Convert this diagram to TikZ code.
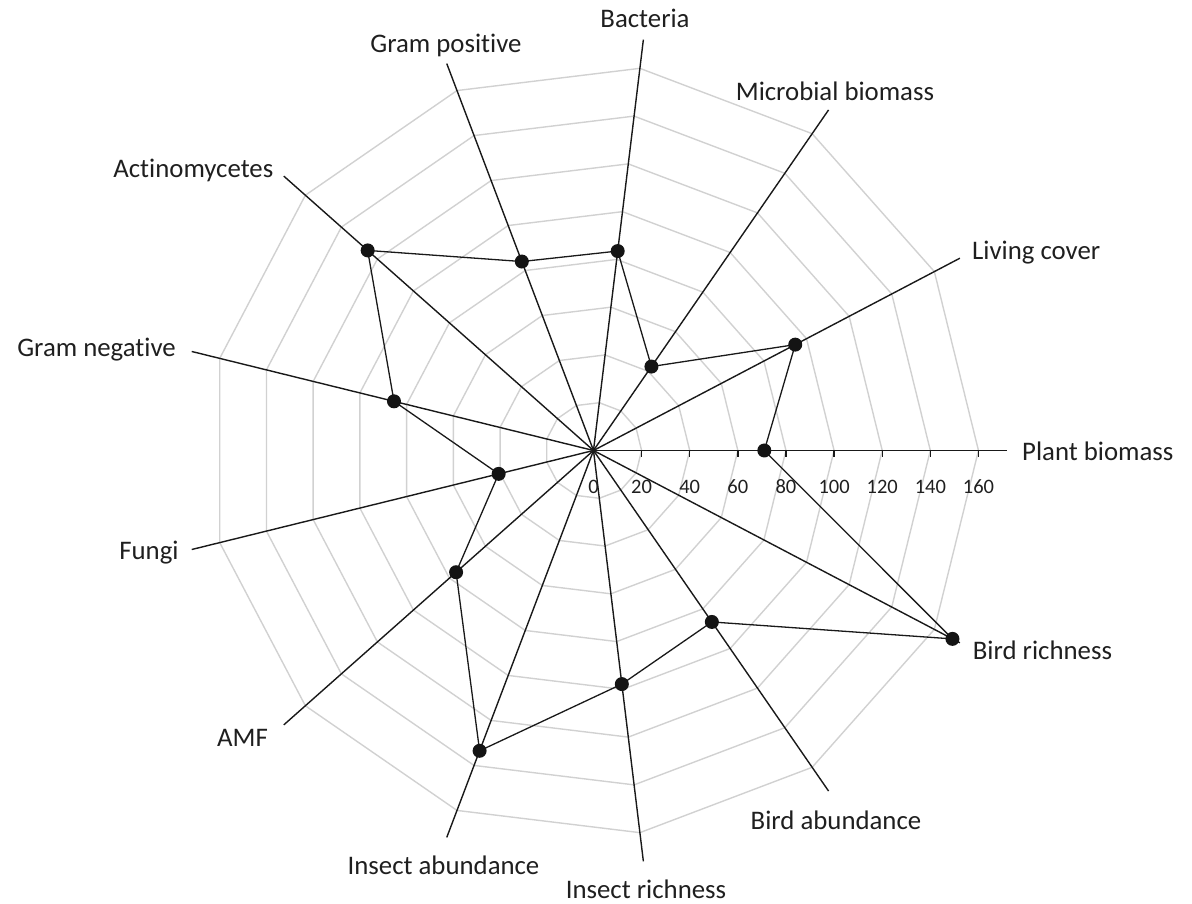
\documentclass[tikz,border=0pt]{standalone}
\usepackage{fontspec}
\setmainfont{Carlito}[Ligatures={NoCommon}]
\begin{document}
\begin{tikzpicture}[x=1pt,y=1pt,
  gridline/.style={draw=black!18, line width=1.4pt, line join=miter},
  axisline/.style={draw=black!90, line width=1.4pt},
  dataline/.style={draw=black!90, line width=1.3pt},
  dot/.style={circle, fill=black!92, inner sep=0pt, minimum size=14pt},
  lab/.style={inner sep=0pt, font=\fontsize{26.8}{31}\selectfont, text=black!88},
  ticklab/.style={inner sep=0pt, font=\fontsize{20.5}{24}\selectfont, text=black!88}]
\useasboundingbox (-593.5,-453.5) rectangle (598.5,450.5);
\def\S{2.406}
\def\A{27.6923}
% grid rings
\foreach \k in {1,...,8}{
  \draw[gridline] (0:\k*20*\S) \foreach \i in {1,...,12}{ -- (\i*\A:\k*20*\S)} -- cycle;
}
\coordinate (O) at (0,0);
% axes
\foreach \i in {0,...,12}{
  \coordinate (e\i) at (\i*\A:172*\S);
  \draw[axisline] (O) -- (e\i);
}
% ticks on plant biomass axis
\foreach \k in {1,...,8}{
  \coordinate (t\k) at (\k*20*\S,0);
  \draw[axisline] (t\k) -- ++(0,-7);
}
\foreach \k in {0,...,8}{
  \pgfmathtruncatemacro{\val}{\k*20}
  \node[ticklab] (tl\k) at (\k*20*\S,-36.5) {\val};
}
% data
\foreach \i/\v in {0/71,1/94.7,2/42.4,3/83.5,4/84,5/125.4,6/85.4,7/40.6,8/76.3,9/133.5,10/97.8,11/86.6,12/168.5}{
  \coordinate (p\i) at (\i*\A:\v*\S);
}
\draw[dataline] (p0) -- (p1) -- (p2) -- (p3) -- (p4) -- (p5) -- (p6) -- (p7) -- (p8) -- (p9) -- (p10) -- (p11) -- (p12) -- cycle;
\foreach \i in {0,...,12}{
  \node[dot] (d\i) at (p\i) {};
}
% labels
\node[lab, anchor=west] (l0) at (428.5,-0.5) {Plant biomass};
\node[lab, anchor=west] (l1) at (378.5,197.5) {Living cover};
\node[lab] (l2) at (241.5,359.5) {Microbial biomass};
\node[lab] (l3) at (51.5,432.5) {Bacteria};
\node[lab] (l4) at (-147.5,405.5) {Gram positive};
\node[lab] (l5) at (-400.2,280.5) {Actinomycetes};
\node[lab] (l6) at (-497,100.5) {Gram negative};
\node[lab] (l7) at (-444.5,-102.5) {Fungi};
\node[lab] (l8) at (-351,-287.5) {AMF};
\node[lab] (l9) at (-150,-414.5) {Insect abundance};
\node[lab] (l10) at (52.5,-438.5) {Insect richness};
\node[lab] (l11) at (242.5,-369.5) {Bird abundance};
\node[lab, anchor=west] (l12) at (379.2,-199.5) {Bird richness};
\end{tikzpicture}
\end{document}
